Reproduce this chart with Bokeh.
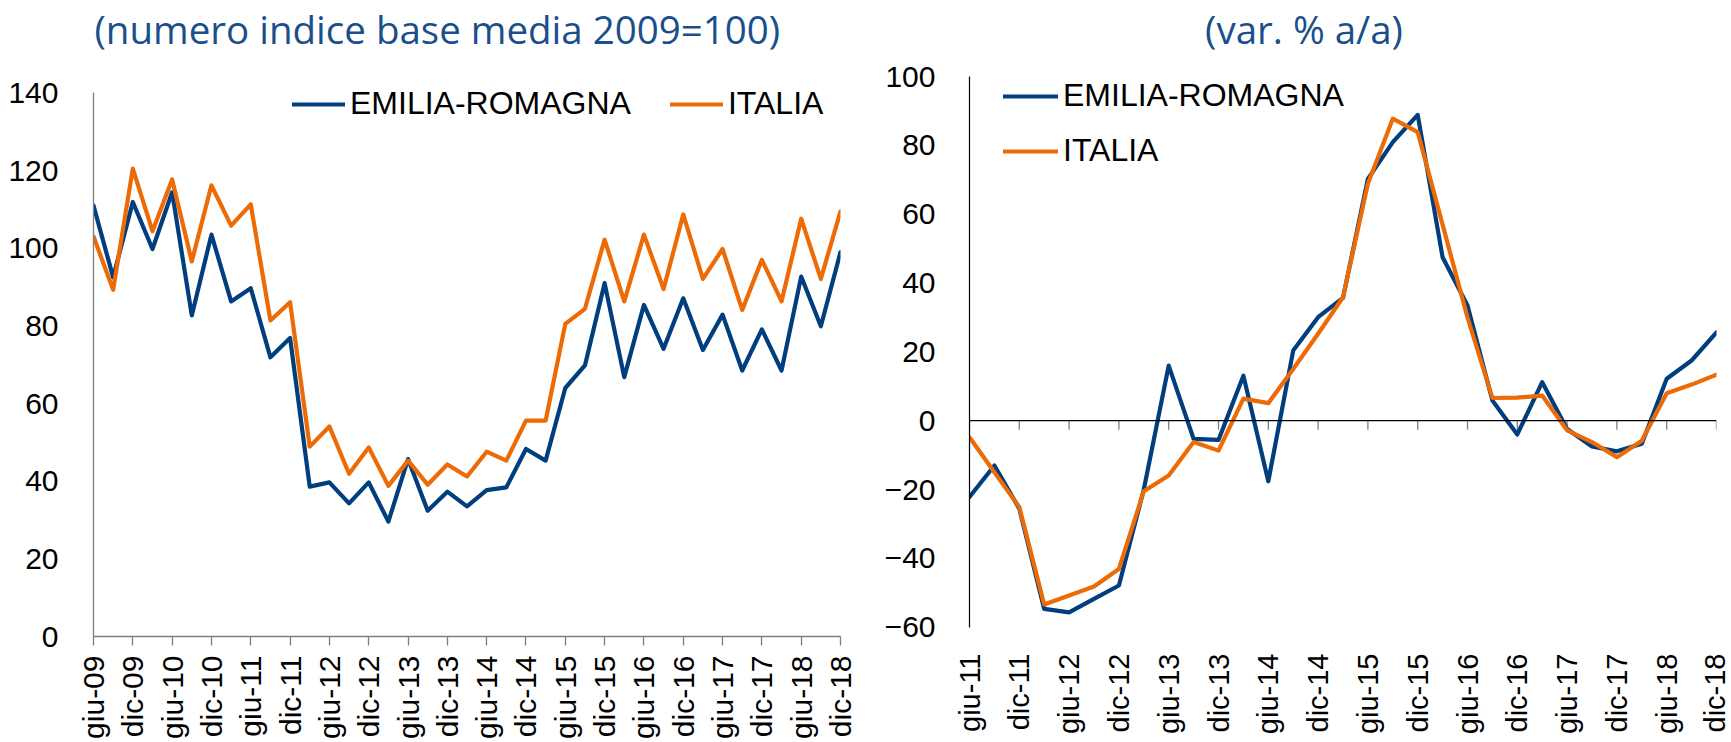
from bokeh.plotting import figure
from bokeh.models import (FixedTicker, Legend, LegendItem, Label, Span, Range1d)
from bokeh.layouts import row
from bokeh.embed import file_html
from bokeh.resources import INLINE

# ---------------- data ----------------
left_quarters = ["giu-09", "set-09", "dic-09", "mar-10", "giu-10", "set-10", "dic-10",
                 "mar-11", "giu-11", "set-11", "dic-11", "mar-12", "giu-12", "set-12",
                 "dic-12", "mar-13", "giu-13", "set-13", "dic-13", "mar-14", "giu-14",
                 "set-14", "dic-14", "mar-15", "giu-15", "set-15", "dic-15", "mar-16",
                 "giu-16", "set-16", "dic-16", "mar-17", "giu-17", "set-17", "dic-17",
                 "mar-18", "giu-18", "set-18", "dic-18"]
left_er = [111.0, 92.5, 111.9, 99.8, 114.4, 82.7, 103.5, 86.3, 89.7, 71.9, 76.9,
           38.6, 39.7, 34.3, 39.7, 29.6, 45.7, 32.4, 37.3, 33.5, 37.7, 38.4, 48.3,
           45.3, 64.0, 69.8, 91.0, 66.8, 85.4, 74.1, 87.1, 73.8, 82.9, 68.5, 79.1,
           68.5, 92.7, 79.9, 99.0]
left_it = [103.0, 89.3, 120.5, 104.4, 117.7, 96.6, 116.2, 105.8, 111.3, 81.4, 86.1,
           48.9, 54.1, 41.9, 48.7, 38.8, 45.3, 39.1, 44.3, 41.2, 47.6, 45.3, 55.6,
           55.6, 80.5, 84.4, 102.2, 86.3, 103.5, 89.5, 108.7, 92.1, 99.8, 84.1, 97.0,
           86.3, 107.6, 92.1, 109.5]

right_quarters = ["giu-11", "set-11", "dic-11", "mar-12", "giu-12", "set-12", "dic-12",
                  "mar-13", "giu-13", "set-13", "dic-13", "mar-14", "giu-14", "set-14",
                  "dic-14", "mar-15", "giu-15", "set-15", "dic-15", "mar-16", "giu-16",
                  "set-16", "dic-16", "mar-17", "giu-17", "set-17", "dic-17", "mar-18",
                  "giu-18", "set-18", "dic-18"]
right_er = [-22.2, -13.0, -25.6, -54.7, -55.7, -51.8, -47.9, -20.0, 16.0, -5.3, -5.6,
            13.1, -17.6, 20.4, 30.1, 35.7, 70.3, 81.0, 88.9, 47.5, 33.5, 5.9, -4.0,
            11.2, -2.4, -7.5, -8.9, -6.7, 12.2, 17.5, 25.7]
right_it = [-4.8, -15.0, -25.1, -53.4, -50.8, -48.2, -43.1, -20.5, -15.9, -6.2, -8.7,
            6.4, 5.1, 15.0, 25.3, 35.9, 68.9, 87.8, 83.9, 57.0, 30.0, 6.6, 6.7, 7.3,
            -2.8, -6.2, -10.6, -5.8, 8.0, 10.5, 13.4]

series_names = ["EMILIA-ROMAGNA", "ITALIA"]
left_title = "(numero indice base media 2009=100)"
right_title = "(var. % a/a)"
left_yticks = [0, 20, 40, 60, 80, 100, 120, 140]
right_yticks = [-60, -40, -20, 0, 20, 40, 60, 80, 100]

# ---------------- style ----------------
BLUE = "#003E7E"
ORANGE = "#EC6B06"
TITLE_COLOR = "#1A4F8B"
FONT = "Liberation Sans"
TFONT = "Open Sans"
LW = 4.2
H = 742


def tick_positions(quarters):
    return [i for i, q in enumerate(quarters) if q.startswith("giu") or q.startswith("dic")]


def style_common(p):
    p.xgrid.grid_line_color = None
    p.ygrid.grid_line_color = None
    p.outline_line_color = None
    p.background_fill_color = "white"
    p.border_fill_color = "white"
    p.xaxis.axis_label = None
    p.yaxis.axis_label = None


def make_legend(p, renderers, orientation, loc, glyph_w, spacing):
    leg = Legend(items=[LegendItem(label=series_names[k], renderers=[renderers[k]])
                        for k in range(2)],
                 orientation=orientation, location=loc)
    leg.glyph_width = glyph_w
    leg.glyph_height = 36
    leg.label_height = 36
    leg.label_standoff = 5
    leg.spacing = spacing
    leg.padding = 0
    leg.margin = 0
    leg.border_line_color = None
    leg.background_fill_alpha = 0
    leg.label_text_font = FONT
    leg.label_text_font_size = "32px"
    leg.label_text_color = "black"
    p.add_layout(leg, "center")


# ---------------- left figure ----------------
xl = list(range(len(left_quarters)))
p1 = figure(width=864, height=H, output_backend="svg", toolbar_location=None,
            x_range=Range1d(0, len(left_quarters) - 1), y_range=Range1d(0, 163.8),
            min_border_left=93, min_border_right=24, min_border_top=0,
            min_border_bottom=106)
style_common(p1)
r1a = p1.line(xl, left_er, line_color=BLUE, line_width=LW, line_join="round", line_cap="round")
r1b = p1.line(xl, left_it, line_color=ORANGE, line_width=LW, line_join="round", line_cap="round")

p1.add_layout(Label(x=0.05, y=156.5, text=left_title, text_font=TFONT,
                    text_font_size="38.5px", text_color=TITLE_COLOR,
                    text_align="left", text_baseline="alphabetic"))

lt = tick_positions(left_quarters)
p1.xaxis.ticker = FixedTicker(ticks=lt)
p1.xaxis.major_label_overrides = {i: left_quarters[i] for i in lt}
p1.xaxis.major_label_orientation = 3.14159265 / 2
p1.xaxis.major_label_text_font = FONT
p1.xaxis.major_label_text_font_size = "30px"
p1.xaxis.major_label_text_color = "black"
p1.xaxis.major_label_standoff = 10
p1.xaxis.major_tick_out = 9
p1.xaxis.major_tick_in = 0
p1.xaxis.minor_tick_line_color = None
p1.xaxis.axis_line_color = "#7F7F7F"
p1.xaxis.major_tick_line_color = "#7F7F7F"
p1.xaxis.axis_line_width = 1.3
p1.xaxis.major_tick_line_width = 1.3

p1.yaxis.ticker = FixedTicker(ticks=left_yticks)
p1.yaxis.bounds = (left_yticks[0], left_yticks[-1])
p1.yaxis.major_label_text_font = FONT
p1.yaxis.major_label_text_font_size = "30px"
p1.yaxis.major_label_text_color = "black"
p1.yaxis.major_label_standoff = 29
p1.yaxis.major_tick_line_color = None
p1.yaxis.minor_tick_line_color = None
p1.yaxis.axis_line_color = "#7F7F7F"
p1.yaxis.axis_line_width = 1.3

make_legend(p1, [r1a, r1b], "horizontal", (199, 514), 53, 39)

# ---------------- right figure ----------------
xr = list(range(len(right_quarters)))
p2 = figure(width=866, height=H, output_backend="svg", toolbar_location=None,
            x_range=Range1d(0, len(right_quarters) - 1), y_range=Range1d(-62.73, 122.15),
            min_border_left=105, min_border_right=14, min_border_top=0,
            min_border_bottom=106)
style_common(p2)

p2.add_layout(Label(x=9.46, y=113.8, text=right_title, text_font=TFONT,
                    text_font_size="38.5px", text_color=TITLE_COLOR,
                    text_align="left", text_baseline="alphabetic"))

rt = tick_positions(right_quarters)
p2.xaxis.ticker = FixedTicker(ticks=rt)
p2.xaxis.major_label_overrides = {i: right_quarters[i] for i in rt}
p2.xaxis.major_label_orientation = 3.14159265 / 2
p2.xaxis.major_label_text_font = FONT
p2.xaxis.major_label_text_font_size = "29px"
p2.xaxis.major_label_text_color = "black"
p2.xaxis.major_label_standoff = 11
p2.xaxis.major_tick_line_color = None
p2.xaxis.minor_tick_line_color = None
p2.xaxis.axis_line_color = None

# zero line with tick marks
p2.add_layout(Span(location=0, dimension="width", line_color="black", line_width=1.2))
p2.segment(x0=rt, y0=[0] * len(rt), x1=rt, y1=[-2.6] * len(rt),
           line_color="#7F7F7F", line_width=1.3)

r2a = p2.line(xr, right_er, line_color=BLUE, line_width=LW, line_join="round", line_cap="round")
r2b = p2.line(xr, right_it, line_color=ORANGE, line_width=LW, line_join="round", line_cap="round")

p2.yaxis.ticker = FixedTicker(ticks=right_yticks)
p2.yaxis.bounds = (right_yticks[0], right_yticks[-1])
p2.yaxis.major_label_text_font = FONT
p2.yaxis.major_label_text_font_size = "30px"
p2.yaxis.major_label_text_color = "black"
p2.yaxis.major_label_standoff = 28
p2.yaxis.major_tick_line_color = None
p2.yaxis.minor_tick_line_color = None
p2.yaxis.axis_line_color = "black"
p2.yaxis.axis_line_width = 1.2

make_legend(p2, [r2a, r2b], "vertical", (34, 467), 55, 18)

layout = row(p1, p2)
open("out.html", "w").write(file_html(layout, INLINE))
